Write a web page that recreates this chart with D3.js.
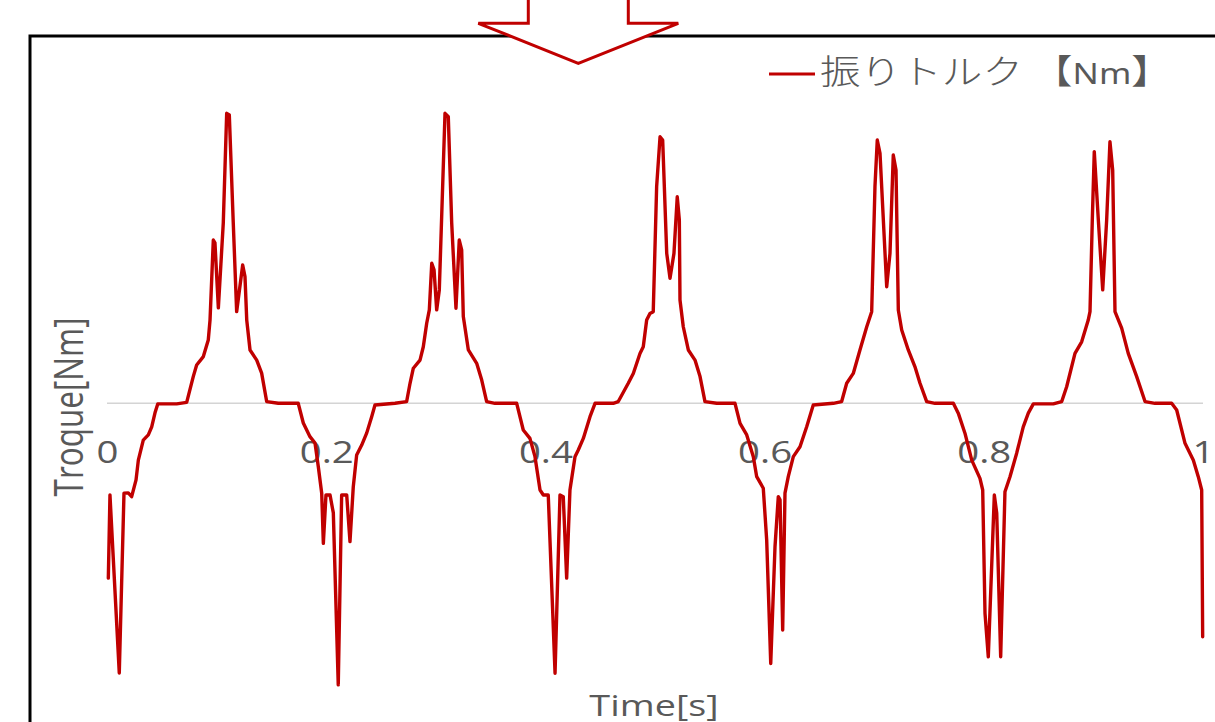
<!DOCTYPE html>
<html><head><meta charset="utf-8">
<script src="https://cdn.jsdelivr.net/npm/d3@7"></script>
<style>html,body{margin:0;padding:0;background:#fff;overflow:hidden}</style>
</head><body>
<svg id="c" width="1215" height="722"></svg>
<script>
const times = [
0.0012,0.0027,0.0112,0.0155,0.0194,0.0225,0.0265,0.0286,0.0331,0.0377,0.0408,0.0438,0.0463,0.0636,0.0727,
0.0787,0.0818,0.0879,0.0924,0.0940,0.0970,0.0985,0.1016,0.1061,0.1092,0.1116,0.1152,0.1183,0.1238,0.1259,0.1275,0.1305,0.1366,0.1411,0.1457,0.1563,0.1745,
0.1791,0.1852,0.1898,0.1928,0.1959,0.1974,0.1998,0.2035,0.2065,0.2110,0.2141,0.2187,0.2217,0.2247,0.2278,0.2324,0.2370,0.2415,0.2445,0.2628,0.2734,
0.2765,0.2795,0.2856,0.2886,0.2917,0.2941,0.2963,0.2984,0.3008,0.3032,0.3084,0.3114,0.3145,0.3184,0.3214,0.3236,0.3251,0.3297,0.3373,0.3419,0.3464,0.3540,0.3738,
0.3798,0.3859,0.3905,0.3951,0.3981,0.4026,0.4088,0.4133,0.4163,0.4194,0.4224,0.4270,0.4300,0.4346,0.4407,0.4453,0.4619,0.4665,
0.4756,0.4802,0.4863,0.4893,0.4924,0.4954,0.4984,0.5015,0.5046,0.5070,0.5107,0.5137,0.5173,0.5203,0.5222,0.5228,0.5258,0.5304,0.5365,0.5411,0.5456,0.5563,0.5730,
0.5776,0.5837,0.5897,0.5928,0.5988,0.6019,0.6056,0.6095,0.6125,0.6141,0.6165,0.6186,0.6216,0.6262,0.6323,0.6384,0.6444,0.6627,0.6703,
0.6749,0.6809,0.6870,0.6932,0.6977,0.7007,0.7028,0.7053,0.7114,0.7144,0.7174,0.7199,0.7220,0.7251,0.7311,0.7372,0.7418,0.7479,0.7555,0.7722,
0.7767,0.7828,0.7890,0.7965,0.7990,0.8011,0.8041,0.8096,0.8118,0.8154,0.8193,0.8239,0.8300,0.8360,0.8406,0.8452,0.8634,0.8711,
0.8756,0.8832,0.8893,0.8953,0.8969,0.8990,0.9008,0.9045,0.9085,0.9121,0.9151,0.9176,0.9197,0.9258,0.9318,0.9395,0.9471,0.9562,0.9714,
0.9760,0.9836,0.9912,0.9957,0.9988,0.9997
];
const torque = [
-6.03,-3.16,-9.30,-3.10,-3.09,-3.22,-2.64,-1.96,-1.27,-1.09,-0.81,-0.33,-0.02,-0.02,0.03,
0.92,1.32,1.61,2.18,2.87,5.63,5.53,3.29,6.22,10.00,9.94,6.22,3.16,4.77,4.37,2.87,1.84,1.49,1.04,0.06,0,0,
-0.68,-1.15,-1.37,-2.19,-3.10,-4.83,-3.16,-3.16,-3.78,-9.71,-3.16,-3.16,-4.77,-2.88,-1.78,-1.44,-1.02,-0.46,-0.06,0,0.06,
0.69,1.21,1.49,1.95,2.76,3.22,4.83,4.60,3.22,3.91,10.00,9.88,6.22,3.28,5.63,5.29,2.99,1.84,1.38,0.80,0.06,0,0,
-0.92,-1.21,-1.84,-2.99,-3.16,-3.16,-9.31,-3.16,-3.22,-6.03,-2.99,-1.84,-1.61,-1.21,-0.46,0,0,0.06,
0.69,1.03,1.72,1.95,2.87,3.10,3.16,7.47,9.19,9.08,5.17,4.31,5.17,7.12,6.32,3.56,2.64,1.84,1.49,0.92,0.06,0,0,
-0.69,-1.09,-1.84,-2.53,-2.93,-4.71,-8.97,-4.94,-3.22,-3.33,-7.82,-3.10,-2.53,-1.84,-1.50,-0.81,-0.06,0,0.06,
0.69,1.03,1.84,2.64,3.16,7.47,9.08,8.62,4.02,5.17,8.56,8.04,3.22,2.53,1.84,1.26,0.69,0.06,0,0,
-0.34,-1.03,-1.96,-2.59,-2.99,-7.24,-8.74,-3.16,-3.79,-8.74,-3.05,-2.53,-1.72,-0.81,-0.34,-0.02,-0.02,0.06,
0.57,1.72,2.12,2.87,3.16,6.32,8.68,6.32,3.91,6.32,9.02,8.04,3.16,2.59,1.72,0.92,0.06,0,0,
-0.23,-1.38,-1.96,-2.53,-2.99,-8.05
];
const tickValues = [0, 0.2, 0.4, 0.6, 0.8, 1];
const tickLabels = ["0", "0.2", "0.4", "0.6", "0.8", "1"];
const seriesName = "振りトルク";
const seriesUnit = "Nm";
const xTitle = "Time[s]";
const yTitle = "Troque[Nm]";

const svg = d3.select("#c");
const x = d3.scaleLinear().domain([0, 1]).range([107, 1203]);
const y = d3.scaleLinear().domain([-10, 10]).range([693.3, 113.3]);
const STRETCH = 1.26;
const grey = "#595959";
const red = "#c00000";
const latin = "'Open Sans', 'Noto Sans', sans-serif";

// frame
svg.append("rect").attr("x", 30).attr("y", 36).attr("width", 1300).attr("height", 800)
  .attr("fill", "none").attr("stroke", "#000").attr("stroke-width", 3);

// zero line
svg.append("line").attr("x1", x(0)).attr("x2", x(1)).attr("y1", y(0)).attr("y2", y(0))
  .attr("stroke", "#d4d4d4").attr("stroke-width", 1.5);

// x axis labels
const xAxis = d3.axisBottom(x).tickValues(tickValues).tickSize(0).tickPadding(0)
  .tickFormat((d, i) => tickLabels[i]);
const gx = svg.append("g").attr("transform", `translate(0,${y(0)})`).call(xAxis);
gx.select(".domain").remove();
gx.selectAll("text").attr("dy", null).attr("y", 60)
  .attr("font-family", latin).attr("font-size", 30.5).attr("fill", grey)
  .attr("transform", `scale(${STRETCH},1)`);

// series line
const pts = times.map((t, i) => [t, torque[i]]);
svg.append("path").datum(pts)
  .attr("d", d3.line().x(d => x(d[0])).y(d => y(d[1])))
  .attr("fill", "none").attr("stroke", red).attr("stroke-width", 3.4)
  .attr("stroke-linejoin", "round").attr("stroke-linecap", "round");

// axis titles
svg.append("text").text(xTitle)
  .attr("transform", `translate(654,716) scale(${STRETCH},1)`)
  .attr("text-anchor", "middle").attr("font-family", latin).attr("font-size", 30).attr("fill", grey);
svg.append("text").text(yTitle)
  .attr("transform", `translate(83,407) scale(1.3,1) rotate(-90)`)
  .attr("text-anchor", "middle").attr("font-family", latin).attr("font-size", 31.5).attr("fill", grey);

// legend
svg.append("line").attr("x1", 769).attr("x2", 815).attr("y1", 74).attr("y2", 74)
  .attr("stroke", red).attr("stroke-width", 3);
const lt = svg.append("text").attr("font-family", "'Noto Sans CJK JP', sans-serif")
  .attr("font-size", 34).attr("fill", grey);
lt.append("tspan").text(seriesName + " 【").attr("font-weight", 300);
lt.append("tspan").text(seriesUnit).attr("font-size", 29).attr("font-family", "'Noto Sans', 'Open Sans', sans-serif");
lt.append("tspan").text("】");
const w = lt.node().getComputedTextLength();
lt.attr("transform", `translate(820,84) scale(${352 / w},1)`);

// arrow (decoration)
const ax = [528.3, 478.3, 578.3, 678.3, 628.3];
svg.append("path")
  .attr("d", `M${ax[0]},-5 L${ax[0]},23.3 L${ax[1]},23.3 L${ax[2]},63.3 L${ax[3]},23.3 L${ax[4]},23.3 L${ax[4]},-5`)
  .attr("fill", "#fff").attr("stroke", red).attr("stroke-width", 3).attr("stroke-linejoin", "miter");
</script>
</body></html>
